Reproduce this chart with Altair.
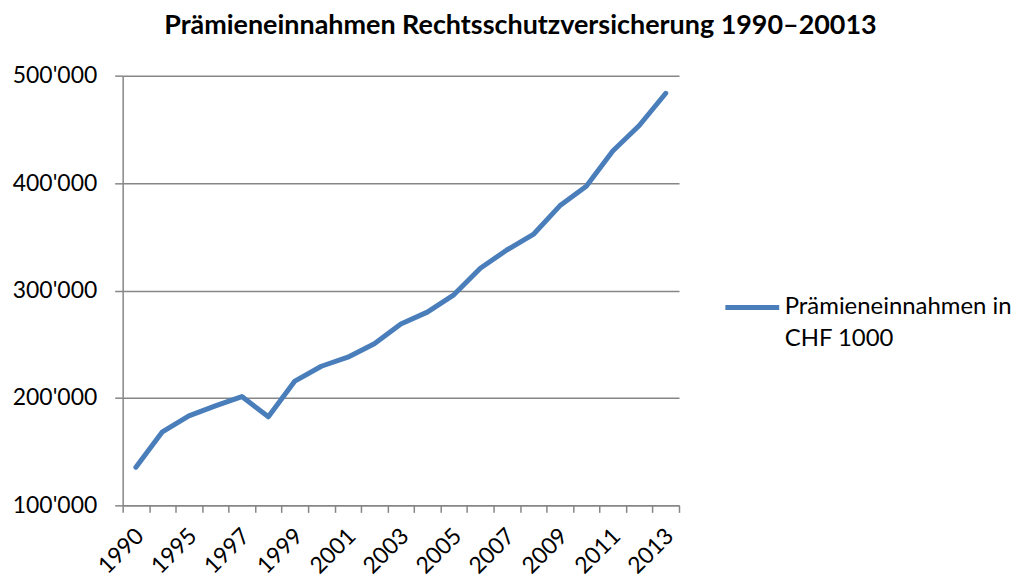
import json
import altair as alt
import pandas as pd

# ---- data ----
years = ["1990", "1994", "1995", "1996", "1997", "1998", "1999", "2000", "2001",
         "2002", "2003", "2004", "2005", "2006", "2007", "2008", "2009", "2010",
         "2011", "2012", "2013"]
values = [135400, 168500, 183300, 192600, 201300, 182400, 215700, 229500, 237900,
          250500, 268800, 279900, 296000, 320700, 337700, 352200, 378800, 397100,
          429800, 453600, 483600]
label_years = ["1990", "1995", "1997", "1999", "2001", "2003", "2005", "2007",
               "2009", "2011", "2013"]
y_ticks = [100000, 200000, 300000, 400000, 500000]
series_lines = ["Prämieneinnahmen in", "CHF 1000"]
series = " ".join(series_lines)
title_text = "Prämieneinnahmen Rechtsschutzversicherung 1990–20013"

df = pd.DataFrame({"Jahr": years, "Wert": values, "Serie": [series] * len(years)})

FONT = "Lato"
GRAY = "#868686"
BLUE = "#4A7EBB"

x_label_expr = "indexof(" + json.dumps(label_years) + ", datum.label) >= 0 ? datum.label : ''"
legend_label_expr = json.dumps(series_lines, ensure_ascii=False)

chart = alt.Chart(df).mark_line(strokeWidth=5, strokeCap="round", strokeJoin="round").encode(
    x=alt.X("Jahr:N", sort=years,
            scale=alt.Scale(type="band", paddingInner=0, paddingOuter=0),
            axis=alt.Axis(title=None, tickBand="extent", grid=False, labelAngle=-45,
                          labelExpr=x_label_expr, labelFont=FONT, labelFontSize=23,
                          labelColor="#000000", labelPadding=12, labelOffset=-4,
                          tickSize=7, tickColor=GRAY, domainColor=GRAY, tickWidth=1.5,
                          domainWidth=1.5)),
    y=alt.Y("Wert:Q",
            scale=alt.Scale(domain=[100000, 500000], nice=False, zero=False),
            axis=alt.Axis(title=None, values=y_ticks,
                          labelExpr="format(datum.value/1000, 'd') + \"'000\"",
                          labelFont=FONT, labelFontSize=23, labelColor="#000000",
                          labelPadding=18, tickSize=8, tickColor=GRAY, tickWidth=1.5,
                          domainColor=GRAY, domainWidth=1.5, gridColor=GRAY,
                          gridWidth=1.5)),
    color=alt.Color("Serie:N", scale=alt.Scale(range=[BLUE]),
                    legend=alt.Legend(title=None, orient="none", legendX=602, legendY=203,
                                      symbolType="stroke", symbolSize=2916,
                                      symbolStrokeWidth=5, labelExpr=legend_label_expr,
                                      labelFont=FONT, labelFontSize=24, labelLimit=400,
                                      labelColor="#000000", labelOffset=3,
                                      labelBaseline="middle")),
).properties(
    width=558,
    height=431,
    autosize=alt.AutoSizeParams(type="none"),
    padding={"left": 115, "top": 67, "right": 340, "bottom": 75},
    title=alt.TitleParams(text=title_text, font=FONT, fontSize=27, fontWeight="bold",
                          color="#000000", anchor="middle", dx=120, offset=25),
).configure(style={"guide-label": {"lineHeight": 32}}).configure_view(stroke=None)

chart.save("out.html", embed_options={"renderer": "svg", "actions": False})
